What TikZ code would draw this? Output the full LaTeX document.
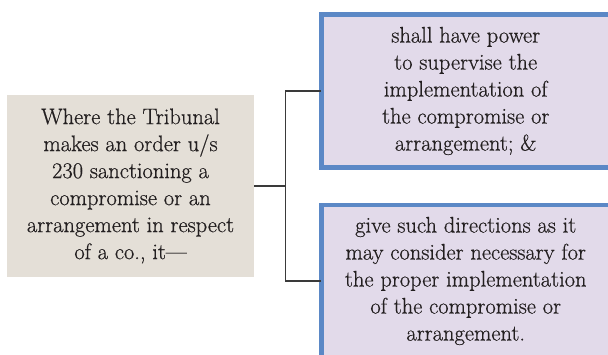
\documentclass[tikz,border=0pt]{standalone}
\usepackage{fontspec}
\setmainfont{Latin Modern Roman}[FakeBold=0.6]
\usetikzlibrary{backgrounds}
\definecolor{stemfill}{HTML}{E4DFD7}
\definecolor{leaffill}{HTML}{E2DAEA}
\definecolor{leafedge}{HTML}{5B88C6}
\definecolor{inkdark}{HTML}{231F20}
\definecolor{wiredark}{HTML}{3A3A3A}
\tikzset{
  body/.style={font=\fontsize{22.5}{27}\selectfont, text=inkdark, align=center, inner sep=0pt},
  stembox/.style={body, fill=stemfill, minimum width=247pt, minimum height=182pt},
  leafbox/.style={body, minimum width=288.5pt},
  leafpaint/.style={fill=leaffill, overlay},
  leafrule/.style={draw=leafedge, line width=4.5pt, overlay},
  wire/.style={draw=wiredark, line width=1.1pt}
}
\begin{document}
\begin{tikzpicture}[x=1pt,y=1pt]
\useasboundingbox (0,0) rectangle (608,-355);
% clause that makes the order
\node[stembox] (stem) at (130.5,-186)
  {Where the Tribunal\\makes an order u/s\\230 sanctioning a\\compromise or an\\arrangement in respect\\of a co., it---};
% the two powers that follow from it
\node[leafbox, minimum height=153pt] (power) at (465.75,-91)
  {shall have power\\to supervise the\\implementation of\\the compromise or\\arrangement; \&};
\node[leafbox, minimum height=152pt] (directions) at (465.75,-281)
  {give such directions as it\\may consider necessary for\\the proper implementation\\of the compromise or\\arrangement.};
% their frames run on past the right and bottom edges of the page
\begin{scope}[on background layer]
  \fill[leafpaint] (power.north west) rectangle ([xshift=60pt]power.south east);
  \draw[leafrule] ([xshift=60pt]power.north east) -- (power.north west)
    -- (power.south west) -- ([xshift=60pt]power.south east);
  \fill[leafpaint] (directions.north west) rectangle ([shift={(60pt,-20pt)}]directions.south east);
  \draw[leafrule] ([xshift=60pt]directions.north east) -- (directions.north west)
    -- ([yshift=-20pt]directions.south west);
\end{scope}
% bracket connector
\coordinate (fork) at ([xshift=31pt]stem.east);
\draw[wire] (stem.east) -- (fork);
\draw[wire] (fork |- power.west) -- (fork |- directions.west);
\draw[wire] (fork |- power.west) -- (power.west);
\draw[wire] (fork |- directions.west) -- (directions.west);
\end{tikzpicture}
\end{document}
